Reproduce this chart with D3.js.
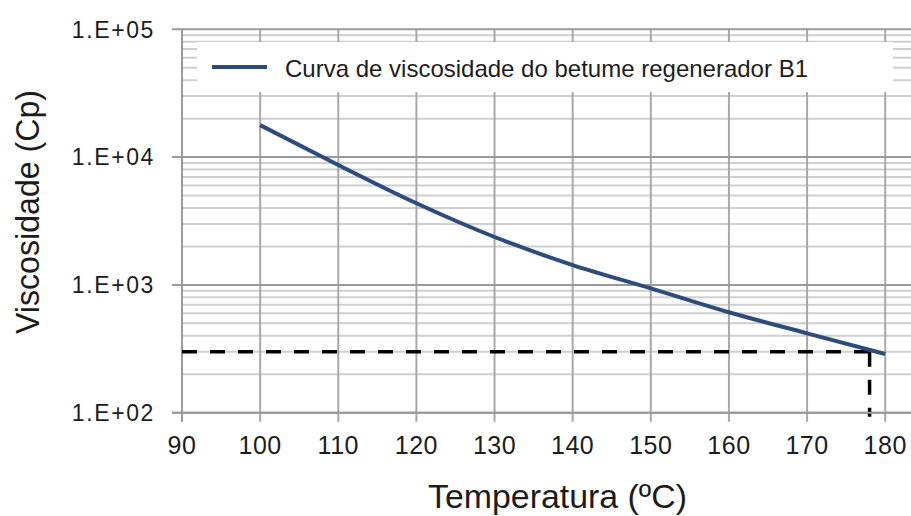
<!DOCTYPE html>
<html>
<head>
<meta charset="utf-8">
<script src="https://cdn.jsdelivr.net/npm/d3@7"></script>
<style>
  html, body { margin: 0; padding: 0; background: #fff; }
  svg { display: block; font-family: "Liberation Sans", Arial, sans-serif; }
</style>
</head>
<body>
<svg id="chart" width="911" height="516"></svg>
<script>
// ---- data ----
const temperatures = [100, 110, 120, 130, 140, 150, 160, 170, 180];
const viscosities = [17800, 8670, 4350, 2370, 1430, 940, 611, 418, 288];
const seriesName = "Curva de viscosidade do betume regenerador B1";
const xTicks = [90, 100, 110, 120, 130, 140, 150, 160, 170, 180];
const yTicks = [1e2, 1e3, 1e4, 1e5];
const yTickLabels = ["1.E+02", "1.E+03", "1.E+04", "1.E+05"];
const refTemperature = [178];
const refViscosity = [300];
const xTitle = "Temperatura (ºC)";
const yTitle = "Viscosidade (Cp)";

// ---- layout ----
const svg = d3.select("#chart");
const pLeft = 182, pRight = 911, pTop = 29.3, pBottom = 412.7;
const x = d3.scaleLinear().domain([90, 183.3]).range([pLeft, pRight]);
const y = d3.scaleLog().domain([100, 1e5]).range([pBottom, pTop]);
const textColor = "#1c1c1c";

// minor horizontal gridlines
const minor = [];
for (let d = 100; d < 1e5; d *= 10) for (let k = 2; k <= 9; k++) minor.push(d * k);
svg.append("g").selectAll("line").data(minor).join("line")
  .attr("x1", pLeft).attr("x2", pRight)
  .attr("y1", d => y(d)).attr("y2", d => y(d))
  .attr("stroke", "#cfcfcf").attr("stroke-width", 2);

// vertical gridlines
svg.append("g").selectAll("line").data(xTicks).join("line")
  .attr("x1", d => x(d)).attr("x2", d => x(d))
  .attr("y1", pTop).attr("y2", pBottom + 9)
  .attr("stroke", "#a8a8a8").attr("stroke-width", 2);

// major horizontal gridlines
svg.append("g").selectAll("line").data(yTicks).join("line")
  .attr("x1", pLeft - 10).attr("x2", pRight)
  .attr("y1", d => y(d)).attr("y2", d => y(d))
  .attr("stroke", "#9a9a9a").attr("stroke-width", 2);

// left axis line
svg.append("line").attr("x1", pLeft).attr("x2", pLeft).attr("y1", pTop).attr("y2", pBottom + 9)
  .attr("stroke", "#9a9a9a").attr("stroke-width", 2);

// y tick labels
svg.append("g").selectAll("text").data(yTicks).join("text")
  .attr("x", 155).attr("y", d => y(d)).attr("dy", "0.36em")
  .attr("text-anchor", "end").attr("font-size", 23).attr("letter-spacing", "1.6px")
  .attr("fill", textColor).text((d, i) => yTickLabels[i]);

// x tick labels
svg.append("g").selectAll("text").data(xTicks).join("text")
  .attr("x", d => x(d)).attr("y", 454)
  .attr("text-anchor", "middle").attr("font-size", 25).attr("letter-spacing", "0.5px")
  .attr("fill", textColor).text(d => d);

// legend box
svg.append("rect").attr("x", 197).attr("y", 42).attr("width", 696).attr("height", 50).attr("fill", "#fff");
svg.append("line").attr("x1", 212).attr("x2", 267).attr("y1", 67).attr("y2", 67)
  .attr("stroke", "#2d4b7c").attr("stroke-width", 4);
svg.append("text").attr("x", 285).attr("y", 76.5).attr("font-size", 24).attr("fill", textColor)
  .text(seriesName);

// reference dashed lines
svg.append("line")
  .attr("x1", x(90)).attr("x2", x(refTemperature[0]))
  .attr("y1", y(refViscosity[0])).attr("y2", y(refViscosity[0]))
  .attr("stroke", "#000").attr("stroke-width", 3.5).attr("stroke-dasharray", "15,13");
svg.append("line")
  .attr("x1", x(refTemperature[0])).attr("x2", x(refTemperature[0]))
  .attr("y1", y(refViscosity[0])).attr("y2", pBottom + 4)
  .attr("stroke", "#000").attr("stroke-width", 3.5).attr("stroke-dasharray", "15,13");

// curve
const pts = temperatures.map((t, i) => [t, viscosities[i]]);
svg.append("path").datum(pts)
  .attr("d", d3.line().x(d => x(d[0])).y(d => y(d[1])).curve(d3.curveMonotoneX))
  .attr("fill", "none").attr("stroke", "#2d4b7c").attr("stroke-width", 4);

// bottom axis line
svg.append("line").attr("x1", pLeft - 10).attr("x2", pRight).attr("y1", pBottom).attr("y2", pBottom)
  .attr("stroke", "#9a9a9a").attr("stroke-width", 2);

// axis titles
svg.append("text").attr("x", 557.5).attr("y", 508).attr("text-anchor", "middle")
  .attr("font-size", 33).attr("textLength", 259).attr("lengthAdjust", "spacingAndGlyphs")
  .attr("fill", textColor).text(xTitle);
svg.append("text").attr("transform", "translate(39,212) rotate(-90)").attr("text-anchor", "middle")
  .attr("font-size", 34).attr("textLength", 244).attr("lengthAdjust", "spacingAndGlyphs")
  .attr("fill", textColor).text(yTitle);
</script>
</body>
</html>
